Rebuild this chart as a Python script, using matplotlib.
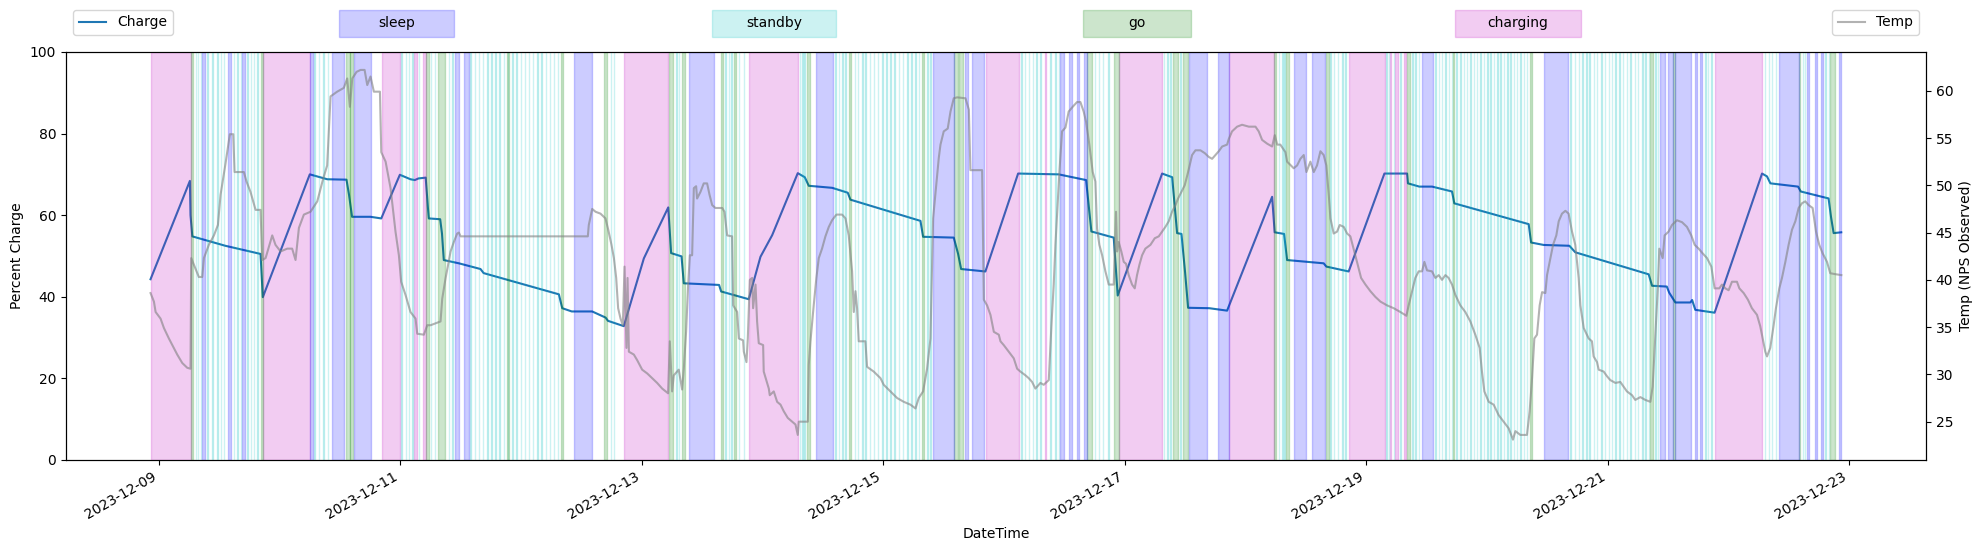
import numpy as np
import matplotlib
matplotlib.use('Agg')
import matplotlib.pyplot as plt
import matplotlib.dates as mdates
from matplotlib.patches import Rectangle

# all times are days after 2023-12-09 00:00
START = np.datetime64('2023-12-09T00:00')

charge_days = [-0.069, 0.257, 0.262, 0.277, 0.55, 0.842, 0.861, 1.25, 1.395, 1.554, 1.575, 1.60,
               1.753, 1.842, 1.996, 2.084, 2.12, 2.15, 2.21, 2.228, 2.236, 2.33, 2.345, 2.36,
               2.485, 2.664, 2.69, 3.313, 3.341, 3.42, 3.589, 3.70, 3.72, 3.851, 4.017, 4.219,
               4.243, 4.329, 4.348, 4.64, 4.657, 4.886, 4.983, 5.08, 5.292, 5.35, 5.383, 5.577,
               5.706, 5.728, 6.308, 6.33, 6.584, 6.62, 6.645, 6.846, 7.117, 7.453, 7.68, 7.724,
               7.909, 7.942, 8.31, 8.393, 8.434, 8.47, 8.50, 8.525, 8.70, 8.848, 9.221, 9.242,
               9.32, 9.345, 9.648, 9.67, 9.855, 10.151, 10.339, 10.346, 10.44, 10.546, 10.711,
               10.73, 11.346, 11.366, 11.47, 11.683, 11.732, 12.34, 12.368, 12.49, 12.51, 12.561,
               12.685, 12.70, 12.726, 12.886, 13.279, 13.32, 13.348, 13.577, 13.60, 13.83, 13.85,
               13.872, 13.935]
charge_pct = [44.3, 68.4, 60.0, 54.8, 52.5, 50.5, 39.9, 70.0, 68.8, 68.7, 65.0, 59.6,
              59.6, 59.2, 69.9, 68.8, 68.6, 69.0, 69.2, 62.0, 59.2, 59.0, 55.5, 49.0,
              48.2, 46.8, 45.8, 40.6, 37.2, 36.4, 36.4, 34.9, 34.1, 32.8, 49.4, 61.9,
              50.7, 49.9, 43.3, 42.9, 41.3, 39.4, 49.8, 55.1, 70.3, 69.3, 67.2, 66.7,
              65.5, 63.8, 58.6, 54.7, 54.5, 50.5, 46.8, 46.2, 70.2, 70.0, 68.6, 56.0,
              54.5, 40.3, 70.2, 69.3, 55.6, 55.4, 46.0, 37.3, 37.2, 36.6, 64.5, 55.8,
              55.4, 49.0, 48.2, 47.4, 46.2, 70.2, 70.2, 67.8, 67.0, 67.0, 65.8,
              62.9, 57.8, 53.3, 52.7, 52.5, 50.9, 45.5, 42.7, 42.5, 41.0, 38.6,
              38.6, 39.2, 36.8, 36.1, 70.2, 69.5, 67.8, 67.0, 65.8, 64.1, 59.6,
              55.6, 55.8]

temp_days = [-0.069, -0.041, -0.027, 0.014, 0.042, 0.083, 0.124, 0.152, 0.194, 0.235, 0.262, 0.268,
             0.290, 0.331, 0.359, 0.373, 0.414, 0.456, 0.489, 0.511, 0.552, 0.588, 0.616, 0.627,
             0.704, 0.726, 0.759, 0.801, 0.842, 0.856, 0.884, 0.939, 0.966, 1.008, 1.063, 1.104,
             1.132, 1.160, 1.201, 1.256, 1.312, 1.361, 1.394, 1.422, 1.477, 1.532, 1.560, 1.582,
             1.602, 1.638, 1.671, 1.704, 1.726, 1.753, 1.781, 1.831, 1.842, 1.878, 1.919, 1.960,
             1.988, 2.007, 2.043, 2.084, 2.126, 2.140, 2.195,
             2.223, 2.250, 2.333, 2.347, 2.375, 2.396, 2.416, 2.443, 2.471, 2.485, 2.499, 3.553,
             3.561, 3.589, 3.617, 3.658, 3.699, 3.722, 3.749, 3.769, 3.788, 3.804, 3.824, 3.843,
             3.857, 3.873, 3.882, 3.893, 3.934, 3.962, 4.003, 4.045, 4.086, 4.127, 4.169, 4.218,
             4.232, 4.251, 4.265, 4.306, 4.334, 4.348, 4.367, 4.384, 4.398, 4.417, 4.431, 4.450,
             4.458, 4.486, 4.513, 4.541, 4.561,
             4.583, 4.610, 4.666, 4.685, 4.707, 4.748, 4.757, 4.790, 4.804, 4.839, 4.845, 4.867,
             4.878, 4.895, 4.914, 4.922, 4.942, 4.955, 4.969, 5.005, 5.010, 5.052, 5.060, 5.093,
             5.121, 5.149, 5.176, 5.209, 5.245, 5.273, 5.292, 5.300, 5.375, 5.383, 5.397, 5.424,
             5.446, 5.466, 5.493, 5.521, 5.549, 5.576, 5.612, 5.659, 5.687, 5.714, 5.742, 5.756,
             5.770, 5.783, 5.797, 5.852, 5.866, 5.921, 5.977, 6.004, 6.060, 6.115, 6.170, 6.225,
             6.267, 6.294, 6.330, 6.363, 6.391, 6.413, 6.460, 6.474, 6.501, 6.534, 6.557, 6.584,
             6.612, 6.681, 6.709, 6.722, 6.819, 6.833, 6.860, 6.888, 6.916, 6.957, 6.971,
             6.998, 7.040, 7.081, 7.109, 7.136, 7.178, 7.205, 7.233, 7.260, 7.302, 7.329, 7.371,
             7.393, 7.412, 7.426, 7.440, 7.459, 7.481, 7.509, 7.536, 7.569, 7.605, 7.633, 7.660,
             7.680, 7.707, 7.735, 7.757, 7.771, 7.790, 7.813, 7.840, 7.868, 7.909, 7.928, 7.937,
             7.950, 7.972, 7.992, 8.011, 8.033, 8.061, 8.083, 8.102, 8.122, 8.144, 8.171, 8.213,
             8.249, 8.282, 8.309, 8.337, 8.365, 8.392, 8.420, 8.442, 8.470, 8.497, 8.525, 8.558,
             8.586, 8.627, 8.663, 8.696, 8.724, 8.751, 8.779, 8.807, 8.848, 8.862, 8.889, 8.931,
             8.972, 9.028, 9.083, 9.110, 9.138, 9.180, 9.221, 9.243, 9.263,
             9.289, 9.331, 9.345, 9.400, 9.428, 9.455, 9.483, 9.505, 9.538, 9.566, 9.593, 9.621,
             9.648, 9.670, 9.690, 9.704, 9.731, 9.759, 9.781, 9.814, 9.842, 9.869, 9.902, 9.930,
             9.958, 9.994, 10.035, 10.076, 10.118, 10.173, 10.228, 10.283, 10.333, 10.352, 10.380,
             10.407, 10.435, 10.463, 10.482, 10.504, 10.545, 10.573, 10.601, 10.628, 10.656,
             10.683, 10.711, 10.739, 10.780, 10.821, 10.863, 10.904, 10.940, 10.959, 10.979,
             11.015, 11.056, 11.097, 11.139, 11.180, 11.216, 11.236, 11.277, 11.332, 11.354,
             11.374, 11.393, 11.415, 11.437, 11.457, 11.484, 11.498, 11.526, 11.548, 11.575,
             11.595, 11.622, 11.650,
             11.677, 11.705, 11.732, 11.760, 11.774, 11.802, 11.843, 11.870, 11.884, 11.912,
             11.926, 11.967, 11.995, 12.022, 12.064, 12.105, 12.133, 12.160, 12.202, 12.229,
             12.271, 12.312, 12.354, 12.373, 12.395, 12.417, 12.428, 12.456, 12.472, 12.505,
             12.533, 12.574, 12.616, 12.657, 12.693, 12.721, 12.754, 12.787, 12.823, 12.859,
             12.886, 12.925, 12.947, 12.975, 13.002, 13.030, 13.071, 13.091, 13.127, 13.162,
             13.195, 13.237, 13.264, 13.284, 13.306, 13.320, 13.347, 13.375, 13.394, 13.422,
             13.444, 13.472, 13.499, 13.527, 13.555, 13.582, 13.610, 13.637, 13.665, 13.698,
             13.726, 13.753, 13.781, 13.817, 13.844, 13.886, 13.936]
temp_vals = [38.6, 37.7, 36.6, 35.9, 34.9, 33.8, 32.8, 32.1, 31.2, 30.7, 30.6, 42.3,
             41.6, 40.3, 40.3, 42.3, 43.7, 44.7, 45.8, 49.0, 52.3, 55.4, 55.4, 51.4,
             51.4, 50.4, 49.3, 47.4, 47.4, 42.1, 42.3, 44.7, 43.7, 43.0, 43.3, 43.3,
             42.1, 45.5, 46.9, 47.2, 48.3, 50.7, 52.1, 59.4, 59.9, 60.3, 61.3, 58.3,
             61.3, 62.0, 62.2, 62.2, 60.6, 61.5, 59.9, 59.9, 53.5, 52.5, 49.7, 45.1,
             42.6, 39.8, 38.4, 36.6, 35.9, 34.3, 34.2,
             35.2, 35.2, 35.6, 38.0, 40.2, 41.6, 43.0, 44.0, 44.9, 45.0, 44.6, 44.6,
             45.8, 47.5, 47.2, 47.0, 46.5, 45.3, 43.7, 42.3, 40.2, 37.0, 35.9, 35.2,
             41.4, 32.8, 40.2, 32.4, 32.1, 31.5, 30.5, 30.1, 29.6, 29.1, 28.5, 28.0,
             33.5, 28.2, 29.9, 30.5, 28.4, 30.6, 34.5, 39.5, 42.6, 42.6, 49.7, 49.9,
             48.6, 49.3, 50.2, 50.2, 49.0,
             47.9, 47.6, 47.6, 47.2, 44.7, 44.6, 37.3, 36.6, 33.8, 33.6, 32.4, 31.3,
             33.8, 40.0, 40.2, 37.0, 39.5, 35.6, 33.3, 33.1, 30.3, 28.5, 27.8, 28.2,
             27.1, 26.8, 26.1, 25.4, 25.0, 24.7, 23.6, 25.0, 25.0, 31.0, 33.5, 37.3,
             40.2, 42.3, 43.3, 44.6, 45.6, 46.3, 46.9, 46.9, 46.5, 44.7, 40.9, 36.6,
             38.8, 37.0, 33.5, 33.5, 30.8, 30.3, 29.6, 28.9, 28.2, 27.5, 27.1, 26.8,
             26.4, 27.5, 28.2, 30.6, 33.8, 46.5, 52.9, 54.3, 55.7, 56.0, 57.8, 59.2,
             59.3, 59.2, 58.0, 51.6, 51.6, 37.9, 37.3, 36.3, 34.5, 34.2, 33.5,
             33.1, 32.4, 31.7, 30.6, 30.3, 29.9, 29.6, 29.2, 28.5, 29.1, 28.9, 29.4,
             35.2, 39.5, 43.7, 46.9, 51.4, 55.7, 56.1, 57.8, 58.3, 58.8, 58.8, 57.8,
             56.7, 54.3, 51.4, 50.4, 45.4, 43.7, 42.6, 40.9, 39.5, 39.5, 47.2, 43.0,
             44.0, 43.0, 41.9, 41.7, 40.5, 39.5, 39.1, 40.5, 41.6, 42.6, 43.3, 43.7,
             44.4, 44.6, 45.1, 45.6, 46.2, 47.2, 47.9, 48.6, 49.3, 50.0, 51.4, 53.2,
             53.7, 53.7, 53.4, 53.0, 52.8, 53.2, 53.6, 54.1, 54.3, 54.9, 55.7, 56.2,
             56.4, 56.2, 56.2, 55.7, 54.8, 54.4, 54.1, 55.3, 54.3,
             54.3, 53.5, 52.5, 51.8, 52.1, 52.8, 53.2, 51.4, 52.5, 51.4, 52.1, 53.6,
             53.2, 52.1, 49.0, 46.5, 44.9, 45.1, 45.8, 45.6, 44.9, 44.6, 43.0, 41.6,
             40.2, 39.5, 38.8, 38.2, 37.7, 37.3, 37.0, 36.6, 36.2, 37.3, 38.8,
             40.2, 40.9, 40.9, 41.9, 41.0, 40.9, 40.2, 40.5, 40.0, 40.5,
             40.2, 39.5, 38.4, 37.3, 36.6, 35.6, 34.2, 32.8, 30.3, 28.2,
             27.1, 26.8, 25.7, 25.0, 24.3, 23.1, 24.0, 23.6, 23.6, 26.1,
             29.6, 33.8, 34.2, 37.3, 38.7, 38.6, 40.5, 42.3, 43.7, 44.7,
             46.2, 47.0, 47.3,
             47.0, 45.1, 43.7, 40.2, 37.3, 34.9, 33.8, 33.5, 31.9, 31.3,
             30.5, 30.3, 29.8, 29.4, 29.1, 29.2, 28.7, 28.2, 27.8, 27.3,
             27.6, 27.3, 27.1, 28.7, 34.2, 39.5, 43.3, 42.3, 44.7, 45.1,
             45.8, 46.3, 46.1, 45.6, 44.7, 43.7, 43.3, 42.8, 42.3, 41.4,
             39.1, 39.1, 39.5, 39.1, 38.9, 39.8, 39.8, 39.1, 38.6, 37.9,
             37.0, 36.3, 35.1, 33.8, 32.4, 31.9, 32.8, 35.2, 37.0, 39.1,
             40.2, 41.9, 43.7, 45.3, 46.2, 47.6, 48.1, 48.3, 47.9, 47.6,
             45.1, 43.7, 42.8, 41.9, 40.7, 40.6, 40.5]

# state periods (start, end)
charging_spans = [(-0.069, 0.262), (0.864, 1.250), (1.850, 1.996), (2.117, 2.134), (2.189, 2.209),
                  (3.851, 4.218), (4.887, 5.292), (6.855, 7.122), (7.338, 7.352), (7.950, 8.309),
                  (8.862, 9.235), (9.855, 10.159), (10.195, 10.209), (10.242, 10.261),
                  (10.316, 10.333), (12.886, 13.278)]
sleep_spans = [(0.359, 0.378), (0.572, 0.599), (0.690, 0.710), (1.250, 1.273), (1.436, 1.532),
               (1.615, 1.759), (2.452, 2.485), (2.526, 2.567), (3.437, 3.589), (4.395, 4.602),
               (5.446, 5.585), (6.413, 6.584), (6.675, 6.703), (6.731, 6.838), (7.467, 7.495),
               (7.542, 7.564), (7.605, 7.619), (7.660, 7.688), (8.536, 8.682), (8.773, 8.862),
               (9.405, 9.505), (9.552, 9.662), (10.463, 10.554), (11.470, 11.669), (12.436, 12.478),
               (12.500, 12.539), (12.561, 12.693), (12.726, 12.740), (12.768, 12.782),
               (13.422, 13.582), (13.651, 13.670), (13.720, 13.734), (13.770, 13.784),
               (13.913, 13.935)]
go_spans = [(0.262, 0.284), (0.842, 0.864), (1.554, 1.582), (1.587, 1.610), (2.215, 2.240),
            (2.314, 2.369), (2.885, 2.899), (3.327, 3.346), (3.686, 3.713), (4.229, 4.257),
            (4.334, 4.356), (4.652, 4.674), (4.762, 4.784), (5.369, 5.397), (5.714, 5.734),
            (6.322, 6.341), (6.590, 6.617), (6.626, 6.661), (7.688, 7.730), (7.909, 7.950),
            (8.400, 8.442), (8.480, 8.525), (9.235, 9.257), (9.339, 9.359), (9.670, 9.690),
            (10.338, 10.360), (10.719, 10.730), (11.354, 11.374), (12.354, 12.373),
            (12.539, 12.561), (13.582, 13.596), (13.844, 13.880)]
# short standby blips (start times)
standby_times = [0.304, 0.323, 0.345, 0.400, 0.442, 0.483, 0.511, 0.538, 0.621, 0.649, 0.677,
                 0.732, 0.759, 0.787, 0.815, 1.289, 1.325, 1.361, 1.400, 2.007, 2.043, 2.071,
                 2.098, 2.154, 2.250, 2.284, 2.402, 2.430, 2.581, 2.617, 2.650, 2.683, 2.719,
                 2.752, 2.788, 2.821, 2.858, 2.891, 2.927, 2.960, 2.996, 3.029, 3.065, 3.098,
                 3.134, 3.167, 3.203, 3.236, 3.272, 3.305, 3.741, 3.769, 4.284, 4.306, 4.693,
                 4.721, 4.740, 4.804, 4.845, 5.309, 5.328, 5.347, 5.604, 5.631, 5.659, 5.687,
                 5.762, 5.789, 5.825, 5.852, 5.888, 5.921, 5.954, 5.990, 6.023, 6.060, 6.093,
                 6.129, 6.162, 6.198, 6.231, 6.267, 6.294, 6.363, 6.391, 7.144, 7.172, 7.205,
                 7.238, 7.266, 7.302, 7.385, 7.426, 7.454, 7.752, 7.785, 7.818, 7.862, 8.323,
                 8.351, 8.378, 8.461, 9.276, 9.304, 9.322, 9.704, 9.731, 9.764, 9.800, 9.828,
                 10.167, 10.187, 10.228, 10.283, 10.380, 10.407, 10.435, 10.573, 10.601, 10.628,
                 10.656, 10.684, 10.711, 10.747, 10.780, 10.808, 10.835, 10.863, 10.891, 10.918,
                 10.946, 10.973, 11.001, 11.029, 11.056, 11.084, 11.111, 11.139, 11.167, 11.194,
                 11.222, 11.249, 11.277, 11.305, 11.332, 11.691, 11.727, 11.760, 11.788, 11.821,
                 11.848, 11.884, 11.912, 11.948, 11.975, 12.009, 12.036, 12.064, 12.097, 12.124,
                 12.160, 12.188, 12.224, 12.251, 12.285, 12.312, 12.340, 12.395, 12.417, 12.809,
                 12.831, 12.859, 13.300, 13.334, 13.361, 13.394, 13.615, 13.632, 13.803, 13.830]

state_names = ['sleep', 'standby', 'go', 'charging']
state_colors = {'sleep': 'b', 'standby': 'c', 'go': 'g', 'charging': 'm'}


def to_dt(days):
    return START + (np.asarray(days) * 86400).astype('timedelta64[s]')


fig = plt.figure(figsize=(19.82, 5.51), dpi=100)
ax = fig.add_axes([0.0333, 0.1652, 0.9384, 0.7405])
ax.plot(to_dt(charge_days), charge_pct, color='#1f77b4', label='Charge')
ax.set_ylim(0, 100)
ax.set_ylabel('Percent Charge')
ax.set_xlabel('DateTime')

ax2 = ax.twinx()
spans = {'sleep': sleep_spans, 'go': go_spans, 'charging': charging_spans,
         'standby': [(t, t + 0.004) for t in standby_times]}
for name in ['charging', 'standby', 'go', 'sleep']:
    for a, b in spans[name]:
        ax2.axvspan(to_dt(a), to_dt(b), color=state_colors[name], alpha=0.2)

ax2.plot(to_dt(temp_days), temp_vals, color='grey', alpha=0.6, label='Temp')
ax2.set_ylim(20.95, 64.1)
ax2.set_ylabel('Temp (NPS Observed)')

ax.xaxis.set_major_locator(mdates.DayLocator(bymonthday=range(1, 32, 2)))
ax.xaxis.set_major_formatter(mdates.DateFormatter('%Y-%m-%d'))
plt.setp(ax.get_xticklabels(), rotation=30, ha='right')

ax.legend(loc='upper left', bbox_to_anchor=(0, 1.12))
ax2.legend(loc='upper right', bbox_to_anchor=(1.0, 1.12))

# state key boxes above the plot (figure fraction)
box_x = {'sleep': 0.1710, 'standby': 0.3592, 'go': 0.5464, 'charging': 0.7341}
box_w = {'sleep': 0.0580, 'standby': 0.0626, 'go': 0.0545, 'charging': 0.0636}
box_y, box_h = 0.933, 0.049
for name in state_names:
    fig.patches.append(Rectangle((box_x[name], box_y), box_w[name], box_h,
                                 transform=fig.transFigure, color=state_colors[name], alpha=0.2))
    fig.text(box_x[name] + box_w[name] / 2, box_y + box_h / 2, name, ha='center', va='center')

fig.savefig('out.png', dpi=100)
